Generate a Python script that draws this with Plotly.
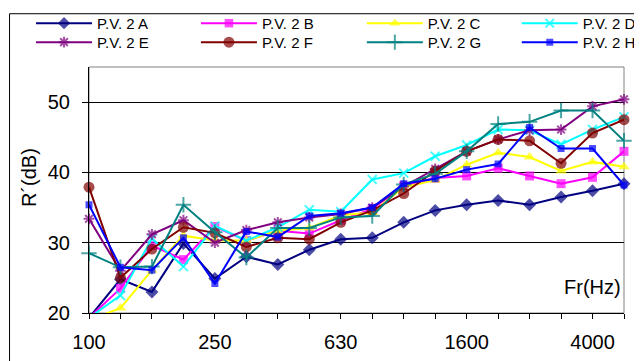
import plotly.graph_objects as go

bands = ['100', '125', '160', '200', '250', '315', '400', '500', '630', '800',
         '1000', '1250', '1600', '2000', '2500', '3150', '4000', '5000']
shown_labels = ['100', '250', '630', '1600', '4000']

names = ['P.V. 2 A', 'P.V. 2 B', 'P.V. 2 C', 'P.V. 2 D',
         'P.V. 2 E', 'P.V. 2 F', 'P.V. 2 G', 'P.V. 2 H']

pv2_a = [19.3, 24.8, 23.0, 29.9, 24.9, 28.0, 26.9, 29.0, 30.5, 30.7, 32.9, 34.6, 35.4, 36.0, 35.4, 36.5, 37.4, 38.4]
pv2_b = [19.3, 23.5, 29.6, 27.6, 32.3, 30.3, 31.7, 31.3, 33.2, 34.8, 38.1, 39.2, 39.5, 40.6, 39.5, 38.4, 39.3, 43.0]
pv2_c = [19.0, 20.7, 26.1, 31.0, 30.3, 30.3, 31.7, 32.1, 33.9, 34.3, 37.9, 38.9, 41.1, 42.8, 42.2, 40.2, 41.5, 40.8]
pv2_d = [19.3, 22.5, 30.6, 26.6, 32.4, 30.3, 32.2, 34.7, 34.4, 39.0, 39.9, 42.3, 43.9, 46.1, 46.0, 44.0, 46.1, 47.9]
pv2_e = [33.4, 26.0, 31.2, 33.2, 30.0, 31.8, 32.9, 33.6, 34.1, 35.0, 38.0, 40.5, 43.0, 44.7, 46.0, 46.1, 49.4, 50.4]
pv2_f = [37.9, 25.0, 29.1, 32.2, 31.4, 29.4, 30.7, 30.5, 32.9, 34.6, 37.0, 40.2, 43.0, 44.7, 44.5, 41.3, 45.6, 47.5]
pv2_g = [28.5, 26.5, 26.6, 35.4, 31.5, 27.9, 32.1, 32.1, 33.6, 33.8, 38.3, 39.8, 43.0, 46.9, 47.2, 48.8, 48.8, 44.5]
pv2_h = [35.4, 26.5, 26.1, 30.7, 24.2, 31.6, 30.8, 33.8, 34.2, 35.0, 38.4, 39.1, 40.4, 41.2, 46.4, 43.4, 43.4, 38.2]

series = [pv2_a, pv2_b, pv2_c, pv2_d, pv2_e, pv2_f, pv2_g, pv2_h]

Y_MIN, Y_MAX = 20, 55

styles = [
    dict(color='#000080', symbol='diamond', size=10),
    dict(color='#FF00FF', symbol='square', size=9),
    dict(color='#FFFF00', symbol='triangle-up', size=10),
    dict(color='#00FFFF', symbol='x-thin-open', size=9),
    dict(color='#800080', symbol='asterisk-open', size=9),
    dict(color='#800000', symbol='circle', size=11),
    dict(color='#008080', symbol='cross-thin-open', size=11),
    dict(color='#0000FF', symbol='square', size=7),
]
legend_ids = ['legend'] + ['legend%d' % k for k in range(2, 9)]

FONT = 'Liberation Sans, Arial, sans-serif'

fig = go.Figure()
for name, vals, st, lg in zip(names, series, styles, legend_ids):
    sizes = [st['size'] if v >= Y_MIN else 0 for v in vals]
    fig.add_trace(go.Scatter(
        x=bands, y=vals, name=name, mode='lines+markers',
        line=dict(color=st['color'], width=2),
        marker=dict(symbol=st['symbol'], size=sizes, color=st['color'],
                    line=dict(color=st['color'], width=2 if 'open' in st['symbol'] else 0)),
        cliponaxis=False, legend=lg,
    ))

# page offset of the plot div (browser body margin)
OFF = 8
PAGE_W, PAGE_H = 642, 361
# plot area in page pixels
L, R, T, B = 89.0, 624.3, 66.7, 313.3
def xp(px):
    return (px - L) / (R - L)
def yp(py):
    return (B - py) / (B - T)

leg_common = dict(orientation='v', font=dict(family=FONT, size=15, color='black'),
                  bgcolor='rgba(0,0,0,0)', borderwidth=0, itemwidth=56,
                  xanchor='left', yanchor='top')
col_x = [31, 196, 362, 517]
row_top = [6.5, 25.5]

legends = {}
for k, lg in enumerate(legend_ids):
    legends[lg] = dict(x=xp(col_x[k % 4]), y=yp(row_top[k // 4]), **leg_common)

fig.update_layout(
    width=PAGE_W - OFF, height=PAGE_H - OFF,
    margin=dict(l=L - OFF, r=PAGE_W - R, t=T - OFF, b=PAGE_H - B, autoexpand=False),
    paper_bgcolor='white', plot_bgcolor='white',
    font=dict(family=FONT, color='black'),
    showlegend=True,
    xaxis=dict(
        type='category', range=[0, len(bands) - 1],
        tickmode='array', tickvals=bands,
        ticktext=[b if b in shown_labels else '' for b in bands],
        ticks='outside', ticklen=5, tickcolor='black', tickwidth=1,
        showline=True, linecolor='black', linewidth=1,
        showgrid=False, zeroline=False,
        tickfont=dict(family=FONT, size=20, color='black'),
        ticklabelstandoff=6,
    ),
    yaxis=dict(
        range=[Y_MIN, Y_MAX], tickmode='array', tickvals=[20, 30, 40, 50],
        ticks='outside', ticklen=6, tickcolor='black', tickwidth=1,
        showline=True, linecolor='black', linewidth=1,
        showgrid=True, gridcolor='black', gridwidth=1, zeroline=False,
        tickfont=dict(family=FONT, size=20, color='black'),
        ticklabelstandoff=8,
    ),
    shapes=[
        dict(type='rect', xref='paper', yref='paper', x0=0, x1=1, y0=0, y1=1,
             line=dict(color='#808080', width=1), layer='below'),
        dict(type='rect', xref='paper', yref='paper',
             x0=xp(9.5), x1=xp(700), y0=yp(400), y1=yp(13.3),
             line=dict(color='black', width=1), layer='below'),
    ],
    annotations=[
        dict(text='R´(dB)', xref='paper', yref='paper', x=xp(29), y=yp(178),
             xanchor='center', yanchor='middle', textangle=-90, showarrow=False,
             font=dict(family=FONT, size=20, color='black')),
        dict(text='Fr(Hz)', xref='paper', yref='paper', x=xp(593), y=yp(287.5),
             xanchor='center', yanchor='middle', showarrow=False,
             font=dict(family=FONT, size=20, color='black')),
    ],
)
fig.update_layout(**legends)

fig.write_html('out.html')
